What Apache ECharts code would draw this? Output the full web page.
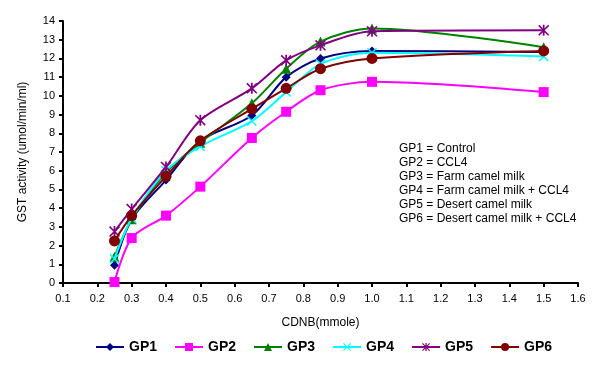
<!DOCTYPE html>
<html>
<head>
<meta charset="utf-8">
<script src="https://cdn.jsdelivr.net/npm/echarts@6/dist/echarts.min.js"></script>
<style>
  html, body { margin: 0; padding: 0; background: #fff; }
  #chart { width: 608px; height: 371px; }
</style>
</head>
<body>
<div id="chart"></div>
<script>
// CDNB concentrations (mmole)
var cdnb = [0.25, 0.3, 0.4, 0.5, 0.65, 0.75, 0.85, 1.0, 1.5];

// GST activity per group
var gp1 = [0.95, 3.4, 5.5, 7.6, 8.95, 11.0, 12.0, 12.4, 12.35];
var gp2 = [0.05, 2.4, 3.6, 5.15, 7.75, 9.15, 10.3, 10.75, 10.2];
var gp3 = [1.4, 3.4, 5.9, 7.5, 9.6, 11.45, 12.9, 13.6, 12.6];
var gp4 = [1.3, 3.45, 6.0, 7.3, 8.65, 10.2, 11.7, 12.3, 12.1];
var gp5 = [2.75, 3.95, 6.2, 8.7, 10.4, 11.9, 12.7, 13.45, 13.5];
var gp6 = [2.25, 3.6, 5.7, 7.6, 9.3, 10.4, 11.45, 12.0, 12.4];

var groupNames = ['GP1', 'GP2', 'GP3', 'GP4', 'GP5', 'GP6'];
var groupNotes = [
  'GP1 = Control',
  'GP2 = CCL4',
  'GP3 = Farm camel milk',
  'GP4 = Farm camel milk + CCL4',
  'GP5 = Desert camel milk',
  'GP6 = Desert camel milk + CCL4'
];

var crossPath = 'path://M1,0L5,4L9,0L10,1L6,5L10,9L9,10L5,6L1,10L0,9L4,5L0,1Z';
var starPath = 'path://M1,0L5,4L9,0L10,1L6,5L10,9L9,10L5,6L1,10L0,9L4,5L0,1Z M4.2,0L5.8,0L5.8,10L4.2,10Z';

var allData = [gp1, gp2, gp3, gp4, gp5, gp6];
var colors = ['#000080', '#ff00ff', '#008000', '#00ffff', '#800080', '#800000'];
var symbols = ['diamond', 'rect', 'triangle', crossPath, starPath, 'circle'];
var sizes = [9, 10, 10, 10, 11, 11];

function pairs(vals) {
  return cdnb.map(function (x, i) { return [x, vals[i]]; });
}

var series = groupNames.map(function (name, i) {
  return {
    name: name,
    type: 'line',
    smooth: 0.3,
    data: pairs(allData[i]),
    symbol: symbols[i],
    symbolSize: sizes[i],
    showAllSymbol: true,
    lineStyle: { color: colors[i], width: 2 },
    itemStyle: { color: colors[i] },
    z: 2 + i
  };
});

var chart = echarts.init(document.getElementById('chart'));
chart.setOption({
  animation: false,
  backgroundColor: '#fff',
  grid: { left: 63, right: 30, top: 21, bottom: 88 },
  xAxis: {
    type: 'value',
    min: 0.1,
    max: 1.6,
    interval: 0.1,
    name: 'CDNB(mmole)',
    nameLocation: 'middle',
    nameGap: 34,
    nameTextStyle: { color: '#000', fontSize: 12, fontFamily: 'Liberation Sans' },
    axisLine: { lineStyle: { color: '#000', width: 2 } },
    axisTick: { show: true, length: 4, lineStyle: { color: '#000', width: 2 } },
    axisLabel: {
      color: '#000', fontSize: 11, fontFamily: 'Liberation Sans', margin: 10,
      formatter: function (v) { return v.toFixed(1); }
    },
    splitLine: { show: false }
  },
  yAxis: {
    type: 'value',
    min: 0,
    max: 14,
    interval: 1,
    name: 'GST activity (umol/min/ml)',
    nameLocation: 'middle',
    nameGap: 34,
    nameTextStyle: { color: '#000', fontSize: 12, fontFamily: 'Liberation Sans' },
    axisLine: { show: true, lineStyle: { color: '#000', width: 2 } },
    axisTick: { show: true, length: 4, lineStyle: { color: '#000', width: 2 } },
    axisLabel: { color: '#000', fontSize: 11, fontFamily: 'Liberation Sans', margin: 8 },
    splitLine: { show: false }
  },
  legend: {
    bottom: 12,
    left: 90,
    itemWidth: 28,
    itemHeight: 10,
    itemGap: 17,
    textStyle: { color: '#000', fontSize: 14, fontWeight: 'bold', fontFamily: 'Liberation Sans' },
    data: groupNames
  },
  graphic: [{
    type: 'text',
    left: 399,
    top: 142,
    style: {
      text: groupNotes.join('\n'),
      fill: '#000',
      fontSize: 12,
      lineHeight: 14,
      fontFamily: 'Liberation Sans'
    }
  }],
  series: series
});
</script>
</body>
</html>
